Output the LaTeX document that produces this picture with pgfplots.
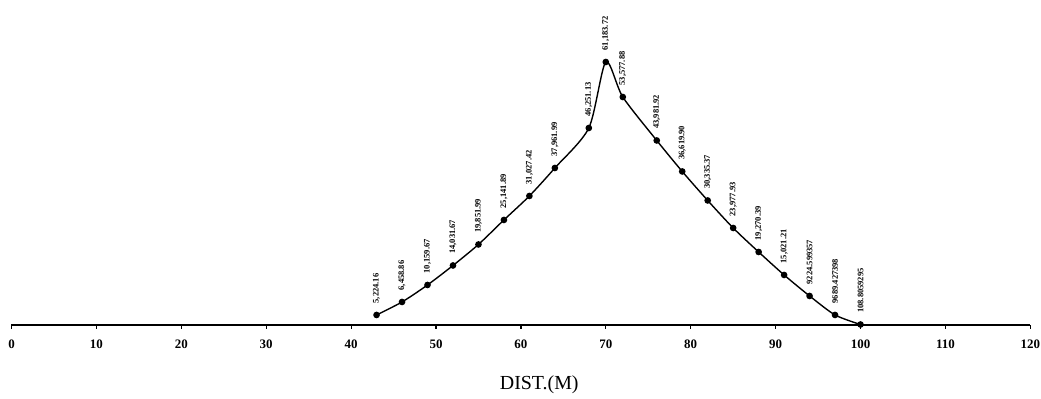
\documentclass[border=0pt]{standalone}
\usepackage{fontspec}
\setmainfont{Liberation Serif}
\usepackage{pgfplots}
\usepackage{pgfplotstable}
\pgfplotsset{compat=1.18}
\pgfplotstableread{
x    y      lab
43   2330   5,224.16
46   5360   6,458.86
49   9320   10,159.67
52   13860  14,031.67
55   18760  19,851.99
58   24470  25,141.89
61   30060  31,027.42
64   36580  37,961.99
68   45900  46,251.13
70   61280  61,183.72
72   53120  53,577.88
76   42990  43,981.92
79   35770  36,619.90
82   29010  30,335.37
85   22600  23,977.93
88   17010  19,270.39
91   11650  15,021.21
94   6760   9224.599357
97   2330   9689.427398
100  109    108.8059295
}\datatable
\begin{document}
\begin{tikzpicture}
\begin{axis}[
  scale only axis,
  width=1019bp, height=325bp,
  xmin=0, xmax=120, ymin=0, ymax=75725,
  clip=false,
  axis x line=bottom,
  axis y line=none,
  axis line style={-, line width=1.6pt},
  xtick={0,10,...,120},
  tick align=outside,
  major tick length=4bp,
  tick style={line width=1.2pt, black},
  /pgf/number format/assume math mode=true,
  xticklabel style={font=\bfseries\fontsize{13}{14}\selectfont, yshift=-7bp},
  xlabel={DIST.(M)},
  xlabel style={font=\fontsize{20}{22}\selectfont, at={(axis description cs:0.518,0)}, anchor=north, yshift=-47bp},
]
\addplot[black, line width=1.4pt, smooth, tension=0.45,
  mark=*, mark size=2.6pt, mark options={fill=black},
  point meta=explicit symbolic,
  nodes near coords,
  every node near coord/.append style={rotate=90, anchor=west, inner xsep=11bp, inner ysep=0pt,
     font=\bfseries\fontsize{8.5}{9}\selectfont}]
  table[x=x, y=y, meta=lab] {\datatable};
\coordinate (bbl) at (axis cs:-1.354,-17242);
\coordinate (btr) at (axis cs:121.26,75725);
\end{axis}
\pgfresetboundingbox
\path[use as bounding box] (bbl) rectangle (btr);
\end{tikzpicture}
\end{document}
